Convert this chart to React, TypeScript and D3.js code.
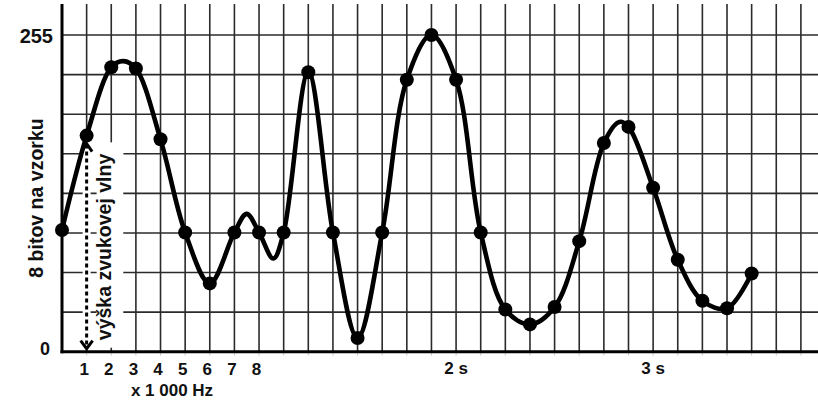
import React from "react";
import * as d3 from "d3";

// Sample dots: position in grid steps (x 1 000 Hz) and 8-bit value
const samplePositions = d3.range(0, 29);
const sampleValues = [
  98, 174, 229, 228, 171, 96, 55, 96, 96, 96, 225, 96, 11, 96, 219, 255, 219,
  96, 34, 22, 36, 89, 168, 181, 132, 74, 41, 35, 63,
];

// Extra vertices of the drawn sound wave between samples
const waveExtraPositions = [2.49, 7.5, 8.58, 22.63];
const waveExtraValues = [234, 111, 75, 185];

const xTickLabels = ["1", "2", "3", "4", "5", "6", "7", "8"];
const xTickPositions = [1, 2, 3, 4, 5, 6, 7, 8];
const timeLabels = ["2 s", "3 s"];
const timePositions = [16, 24];
const yTickLabels = ["0", "255"];
const yTickValues = [0, 255];

const W = 818;
const H = 400;
const FONT = "'Liberation Sans', Arial, sans-serif";

export default function App() {
  const x = d3.scaleLinear().domain([0, 30]).range([62, 800.9]);
  const y = d3.scaleLinear().domain([0, 255]).range([351.7, 35]);

  const gridXs = d3.range(1, 31);
  const gridYs = d3.range(1, 9).map((i) => (i * 255) / 8);

  const wave = samplePositions
    .map((p, i) => [p, sampleValues[i]] as [number, number])
    .concat(waveExtraPositions.map((p, i) => [p, waveExtraValues[i]] as [number, number]))
    .sort((a, b) => a[0] - b[0]);

  const line = d3
    .line<[number, number]>()
    .x((d) => x(d[0]))
    .y((d) => y(d[1]))
    .curve(d3.curveCatmullRom.alpha(0.5));

  const arrowX = x(1);
  const arrowTop = y(sampleValues[1]) + 9;
  const arrowBottom = y(0) - 4;
  const textX = (x(1) + x(2)) / 2 + 7;
  const boxL = x(1) + 10;
  const boxR = x(2) + 12;

  return (
    <svg
      width={W}
      height={H}
      style={{ position: "absolute", left: 0, top: 0, background: "#fff" }}
      fontFamily={FONT}
    >
      <rect x={0} y={0} width={W} height={H} fill="#fff" />
      {/* grid */}
      {gridXs.map((g) => (
        <line key={"vx" + g} x1={x(g)} x2={x(g)} y1={4} y2={y(0)} stroke="#2b2b2b" strokeWidth={1.6} />
      ))}
      {gridXs.map((g) => (
        <line key={"tk" + g} x1={x(g)} x2={x(g)} y1={y(0)} y2={y(0) + 4} stroke="#ccc" strokeWidth={1} />
      ))}
      {gridYs.map((g) => (
        <line key={"hy" + g} x1={x(0)} x2={W} y1={y(g)} y2={y(g)} stroke="#2b2b2b" strokeWidth={1.6} />
      ))}

      {/* white backgrounds for annotation */}
      <rect x={arrowX - 4} y={arrowTop - 4} width={8} height={y(0) - arrowTop + 2} fill="#fff" />
      <rect x={boxL} y={arrowTop - 2} width={boxR - boxL} height={y(0) - arrowTop - 2} fill="#fff" />
      <rect x={arrowX - 4} y={arrowTop - 2} width={boxR - arrowX + 4} height={14} fill="#fff" />

      {/* axes */}
      <line x1={x(0)} x2={x(0)} y1={4} y2={y(0) + 1.5} stroke="#000" strokeWidth={3} />
      <line x1={x(0) - 1.5} x2={W} y1={y(0)} y2={y(0)} stroke="#000" strokeWidth={3} />

      {/* dotted double arrow */}
      <line
        x1={arrowX}
        x2={arrowX}
        y1={arrowTop}
        y2={arrowBottom}
        stroke="#000"
        strokeWidth={3}
        strokeDasharray="4 3"
      />
      <polyline
        points={`${arrowX - 6},${arrowBottom - 7} ${arrowX},${arrowBottom + 1} ${arrowX + 6},${arrowBottom - 7}`}
        fill="none"
        stroke="#000"
        strokeWidth={3}
      />
      <polyline
        points={`${arrowX - 5.5},${arrowTop + 7} ${arrowX},${arrowTop - 1} ${arrowX + 5.5},${arrowTop + 7}`}
        fill="none"
        stroke="#000"
        strokeWidth={3}
      />

      {/* wave */}
      <path d={line(wave) || ""} fill="none" stroke="#000" strokeWidth={4.6} strokeLinejoin="round" />
      {samplePositions.map((p, i) => (
        <circle key={"s" + i} cx={x(p)} cy={y(sampleValues[i])} r={7} fill="#000" />
      ))}

      {/* y tick labels */}
      {yTickValues.map((v, i) => (
        <text
          key={"yl" + i}
          x={v === 0 ? 50 : 53}
          y={y(v) + (v === 0 ? 3.5 : 8)}
          textAnchor="end"
          fontSize={v === 0 ? 18 : 20}
          fontWeight="bold"
          fill="#111"
        >
          {yTickLabels[i]}
        </text>
      ))}

      {/* x tick labels */}
      {xTickPositions.map((p, i) => (
        <text
          key={"xl" + i}
          x={x(p) - 2.5}
          y={375}
          textAnchor="middle"
          fontSize={17}
          fontWeight="bold"
          fill="#111"
        >
          {xTickLabels[i]}
        </text>
      ))}
      {timePositions.map((p, i) => (
        <text key={"tl" + i} x={x(p)} y={374} textAnchor="middle" fontSize={17} fontWeight="bold" fill="#111">
          {timeLabels[i]}
        </text>
      ))}
      <text x={172} y={396} textAnchor="middle" fontSize={17} fontWeight="bold" fill="#111">
        x 1 000 Hz
      </text>

      {/* axis title */}
      <text
        transform={`translate(43,198) rotate(-90)`}
        textAnchor="middle"
        fontSize={19.5}
        fontWeight="bold"
        fill="#111"
      >
        8 bitov na vzorku
      </text>
      <text
        transform={`translate(${textX + 5},247) rotate(-90)`}
        textAnchor="middle"
        fontSize={19.5}
        fontWeight="bold"
        fill="#111"
      >
        výška zvukovej vlny
      </text>
    </svg>
  );
}
